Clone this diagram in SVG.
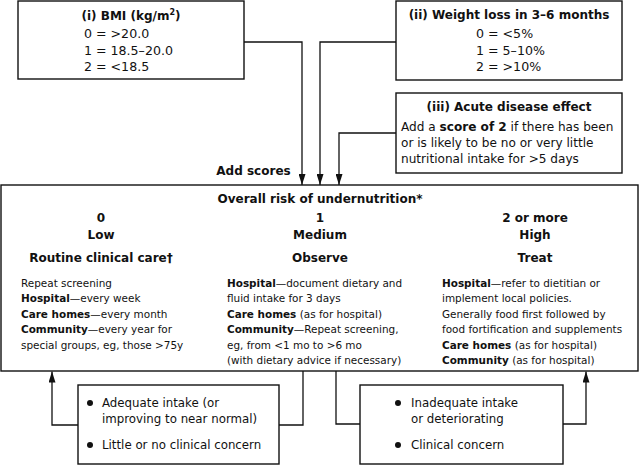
<svg xmlns="http://www.w3.org/2000/svg" width="640" height="465" viewBox="0 0 640 465">
<style>
text{font-family:"DejaVu Sans","Liberation Sans",sans-serif;fill:#111}
.b{font-weight:bold}
.box{fill:#fff;stroke:#111;stroke-width:1.4}
.ln{fill:none;stroke:#111;stroke-width:1.3}
.h{font-size:12px;font-weight:bold;text-anchor:middle}
.sc{font-size:12.6px}
.bd{font-size:10.45px}
.ac{font-size:12.1px}
.bt{font-size:11.8px}
</style>
<defs>
<marker id="ah" markerUnits="userSpaceOnUse" markerWidth="11" markerHeight="7" refX="11" refY="3.5" orient="auto">
<path d="M0,0 L11,3.5 L0,7 z" fill="#111"/>
</marker>
</defs>
<rect width="640" height="465" fill="#fff"/>
<g id="connectors">
<polyline class="ln" points="244,42 302,42 302,185" marker-end="url(#ah)"/>
<polyline class="ln" points="396,42 320,42 320,185" marker-end="url(#ah)"/>
<polyline class="ln" points="396,133 339,133 339,185" marker-end="url(#ah)"/>
<polyline class="ln" points="303,371 303,425 279,425"/>
<polyline class="ln" points="78,425 52,425 52,371.5" marker-end="url(#ah)"/>
<polyline class="ln" points="336,371 336,424 360,424"/>
<polyline class="ln" points="563,424 586,424 586,371.5" marker-end="url(#ah)"/>
</g>
<g id="bmi">
<rect class="box" x="18" y="1" width="226" height="78"/>
<text class="h" x="131" y="20">(i) BMI (kg/m<tspan font-size="8" dy="-5">2</tspan><tspan dy="5">)</tspan></text>
<text class="sc" x="84" y="38">0 = &gt;20.0</text>
<text class="sc" x="84" y="54.5">1 = 18.5–20.0</text>
<text class="sc" x="84" y="71">2 = &lt;18.5</text>
</g>
<g id="weight">
<rect class="box" x="396" y="1" width="226" height="79"/>
<text class="h" x="509" y="19">(ii) Weight loss in 3–6 months</text>
<text class="sc" x="476" y="38">0 = &lt;5%</text>
<text class="sc" x="476" y="54.5">1 = 5–10%</text>
<text class="sc" x="476" y="71">2 = &gt;10%</text>
</g>
<g id="acute">
<rect class="box" x="396" y="93" width="226" height="80"/>
<text class="h" x="509" y="111">(iii) Acute disease effect</text>
<text class="ac" x="401" y="131">Add a <tspan class="b">score of 2</tspan> if there has been</text>
<text class="ac" x="401" y="147">or is likely to be no or very little</text>
<text class="ac" x="401" y="163">nutritional intake for &gt;5 days</text>
</g>
<g id="addscores">
<text class="h" x="253.5" y="175">Add scores</text>
</g>
<g id="risk">
<rect class="box" x="1" y="185" width="637" height="186"/>
<text class="h" x="320" y="203">Overall risk of undernutrition*</text>
<text class="h" x="101" y="222">0</text>
<text class="h" x="101" y="239">Low</text>
<text class="h" x="101" y="262">Routine clinical care†</text>
<text class="h" x="320" y="222">1</text>
<text class="h" x="320" y="239">Medium</text>
<text class="h" x="320" y="262">Observe</text>
<text class="h" x="535" y="222">2 or more</text>
<text class="h" x="535" y="239">High</text>
<text class="h" x="535" y="262">Treat</text>
<text class="bd" x="21" y="286.5">Repeat screening</text>
<text class="bd" x="21" y="302"><tspan class="b">Hospital</tspan>—every week</text>
<text class="bd" x="21" y="317.5"><tspan class="b">Care homes</tspan>—every month</text>
<text class="bd" x="21" y="333"><tspan class="b">Community</tspan>—every year for</text>
<text class="bd" x="21" y="348.5">special groups, eg, those &gt;75y</text>
<text class="bd" x="227" y="286.5"><tspan class="b">Hospital</tspan>—document dietary and</text>
<text class="bd" x="227" y="302">fluid intake for 3 days</text>
<text class="bd" x="227" y="317.5"><tspan class="b">Care homes</tspan> (as for hospital)</text>
<text class="bd" x="227" y="333"><tspan class="b">Community</tspan>—Repeat screening,</text>
<text class="bd" x="227" y="348.5">eg, from &lt;1 mo to &gt;6 mo</text>
<text class="bd" x="227" y="364">(with dietary advice if necessary)</text>
<text class="bd" x="442" y="286.5"><tspan class="b">Hospital</tspan>—refer to dietitian or</text>
<text class="bd" x="442" y="302">implement local policies.</text>
<text class="bd" x="442" y="317.5">Generally food first followed by</text>
<text class="bd" x="442" y="333">food fortification and supplements</text>
<text class="bd" x="442" y="348.5"><tspan class="b">Care homes</tspan> (as for hospital)</text>
<text class="bd" x="442" y="364"><tspan class="b">Community</tspan> (as for hospital)</text>
</g>
<g id="adequate">
<rect class="box" x="78" y="385" width="201" height="79"/>
<circle cx="90" cy="403" r="3" fill="#111"/>
<circle cx="90" cy="445" r="3" fill="#111"/>
<text class="bt" x="102" y="407">Adequate intake (or</text>
<text class="bt" x="102" y="423">improving to near normal)</text>
<text class="bt" x="102" y="449">Little or no clinical concern</text>
</g>
<g id="inadequate">
<rect class="box" x="360" y="385" width="203" height="79"/>
<circle cx="398" cy="403" r="3" fill="#111"/>
<circle cx="398" cy="445" r="3" fill="#111"/>
<text class="bt" x="411" y="407">Inadequate intake</text>
<text class="bt" x="411" y="423">or deteriorating</text>
<text class="bt" x="411" y="449">Clinical concern</text>
</g>
</svg>
